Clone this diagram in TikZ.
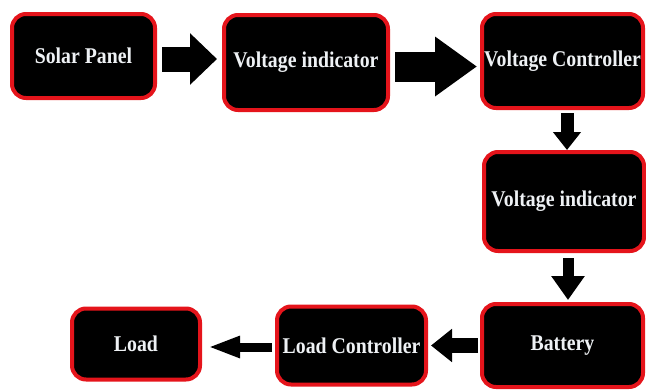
\documentclass[tikz,border=0pt]{standalone}
\usepackage{fontspec}
\setmainfont{Liberation Serif}[FakeStretch=0.88]
\usetikzlibrary{positioning,arrows.meta}

\definecolor{boxred}{HTML}{E5141B}
\definecolor{labeltext}{HTML}{EEF1F4}

\begin{document}
\begin{tikzpicture}[x=1pt, y=-1pt,
	block/.style={draw=boxred, line width=4pt, fill=black, rounded corners=14pt, inner sep=0pt,
		text=labeltext, font=\bfseries\fontsize{22.5}{24}\selectfont},
	flow/.style n args={3}{line width=#1, -{Triangle[width=#2, length=#3]}}]
	\useasboundingbox (0,0) rectangle (646,389);
	\node[block, minimum width=143pt, minimum height=84pt] at (83.5,56) (sp) {Solar Panel};
	\node[block, minimum width=164pt, minimum height=95pt, right=65pt of sp, yshift=-6.5pt] (vi1) {Voltage indicator};
	\node[block, minimum width=161pt, minimum height=94pt, right=90pt of vi1, yshift=1.5pt] (vc) {Voltage Controller};
	\node[block, minimum width=160pt, minimum height=99pt, below=40pt of vc, xshift=1.5pt] (vi2) {Voltage indicator};
	\node[block, minimum width=161pt, minimum height=83pt, below=49pt of vi2, xshift=-1.5pt] (bat) {Battery};
	\node[block, minimum width=149pt, minimum height=78pt, left=52pt of bat] (lc) {Load Controller};
	\node[block, minimum width=128pt, minimum height=71pt, left=73pt of lc, yshift=1.5pt] (ld) {Load};
	\draw[flow={25pt}{50pt}{27pt}, shorten <=5pt, shorten >=5pt] ([yshift=-3pt]sp.east) -- ([yshift=-3pt]sp.east -| vi1.west);
	\draw[flow={30pt}{57pt}{42pt}, shorten <=5pt, shorten >=3pt] ([yshift=-4pt]vi1.east) -- ([yshift=-4pt]vi1.east -| vc.west);
	\draw[flow={13pt}{27pt}{18pt}, shorten <=3pt] ([xshift=4.5pt]vc.south) -- ([xshift=4.5pt]vc.south |- vi2.north);
	\draw[flow={11pt}{32pt}{24pt}, shorten <=5pt, shorten >=2pt] ([xshift=4pt]vi2.south) -- ([xshift=4pt]vi2.south |- bat.north);
	\draw[flow={15pt}{32pt}{21pt}, shorten <=2pt, shorten >=3pt] (bat.west) -- (bat.west -| lc.east);
	\draw[flow={9pt}{20pt}{32pt}, shorten <=3pt, shorten >=6pt] ([yshift=-1.5pt]lc.west) -- ([yshift=-1.5pt]lc.west -| ld.east);
\end{tikzpicture}
\end{document}
